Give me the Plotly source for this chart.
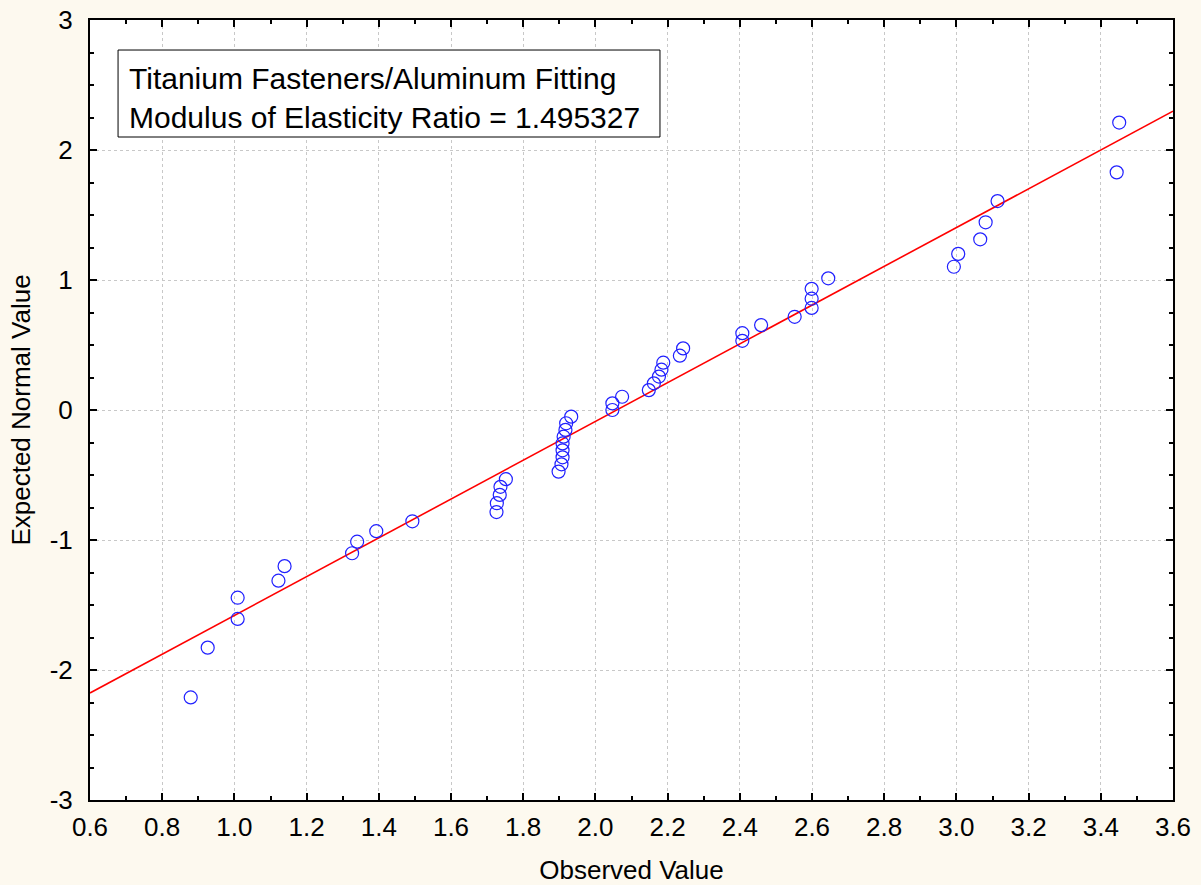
import plotly.graph_objects as go

# Observed values (sorted) and their expected normal scores
observed = [
    0.879, 0.926, 1.009, 1.009, 1.122, 1.139, 1.326, 1.340, 1.393, 1.493,
    1.726, 1.727, 1.735, 1.737, 1.752, 1.898, 1.906, 1.909, 1.909, 1.909,
    1.912, 1.917, 1.919, 1.933, 2.047, 2.047, 2.074, 2.148, 2.162, 2.176,
    2.183, 2.188, 2.234, 2.243, 2.407, 2.407, 2.459, 2.552, 2.599, 2.599,
    2.599, 2.645, 2.993, 3.005, 3.066, 3.081, 3.114, 3.444, 3.451,
]
expected = [
    -2.211, -1.828, -1.607, -1.444, -1.313, -1.201, -1.102, -1.013, -0.932, -0.856,
    -0.785, -0.717, -0.653, -0.591, -0.532, -0.474, -0.418, -0.364, -0.310, -0.257,
    -0.205, -0.153, -0.102, -0.051, 0.000, 0.051, 0.102, 0.153, 0.205, 0.257,
    0.310, 0.364, 0.418, 0.474, 0.532, 0.591, 0.653, 0.717, 0.785, 0.856,
    0.932, 1.013, 1.102, 1.201, 1.313, 1.444, 1.607, 1.828, 2.211,
]

# Fitted reference line: expected = intercept + slope * observed
fit_intercept = -3.072
fit_slope = 1.4918
line_x = [0.6, 3.6]

x_ticks = [0.6, 0.8, 1.0, 1.2, 1.4, 1.6, 1.8, 2.0, 2.2, 2.4, 2.6, 2.8, 3.0, 3.2, 3.4, 3.6]
y_ticks = [-3, -2, -1, 0, 1, 2, 3]
y_tick_text = ["-3", "-2", "-1", "0", "1", "2", "3"]

title_lines = ["Titanium Fasteners/Aluminum Fitting",
               "Modulus of Elasticity Ratio = 1.495327"]

FONT = "Liberation Sans, Arial, sans-serif"

fig = go.Figure()

fig.add_trace(go.Scatter(
    x=line_x,
    y=[fit_intercept + fit_slope * v for v in line_x],
    mode="lines",
    line=dict(color="#FF0000", width=1.6),
    hoverinfo="skip",
    showlegend=False,
))

fig.add_trace(go.Scatter(
    x=observed,
    y=expected,
    mode="markers",
    marker=dict(symbol="circle-open", size=13, color="#2020FF",
                line=dict(width=1.2, color="#2020FF")),
    showlegend=False,
))

axis_common = dict(
    showline=True, linecolor="black", linewidth=2, mirror="ticks",
    ticks="inside", ticklen=7, tickwidth=1.5, tickcolor="black",
    showgrid=True, gridcolor="#C8C8C8", gridwidth=1, griddash="3px,3px",
    zeroline=False, automargin=False,
    tickfont=dict(family=FONT, size=26, color="black"),
)

fig.update_xaxes(
    range=[0.6, 3.6], tickmode="array", tickvals=x_ticks,
    ticktext=[f"{v:.1f}" for v in x_ticks],
    ticklabelstandoff=3,
    minor=dict(dtick=0.1, tick0=0.6, ticks="inside", ticklen=4, tickcolor="black",
               showgrid=False),
    title=dict(text="Observed Value", standoff=20,
               font=dict(family=FONT, size=26, color="black")),
    **axis_common,
)
fig.update_yaxes(
    range=[-3, 3], tickmode="array", tickvals=y_ticks, ticktext=y_tick_text,
    ticklabelstandoff=10,
    minor=dict(dtick=0.25, tick0=-3, ticks="inside", ticklen=4, tickcolor="black",
               showgrid=False),
    title=dict(text="Expected Normal Value", standoff=12,
               font=dict(family=FONT, size=26, color="black")),
    **axis_common,
)

# Caption box in the upper-left corner of the plot
fig.add_shape(type="rect", xref="paper", yref="paper",
              x0=0.0259, x1=0.5263, y0=0.8500, y1=0.9615,
              line=dict(color="black", width=1), fillcolor="white", layer="above")
for i, txt in enumerate(title_lines):
    fig.add_annotation(
        text=txt, xref="paper", yref="paper",
        x=0.0342, y=0.9256 - i * 0.0512,
        xanchor="left", yanchor="middle", showarrow=False,
        font=dict(family=FONT, size=30, color="black"),
    )

fig.update_layout(
    width=1201, height=885,
    margin=dict(l=90, r=28, t=20, b=85, autoexpand=False),
    paper_bgcolor="#FDF9EF",
    plot_bgcolor="white",
)

fig.write_html("out.html")
